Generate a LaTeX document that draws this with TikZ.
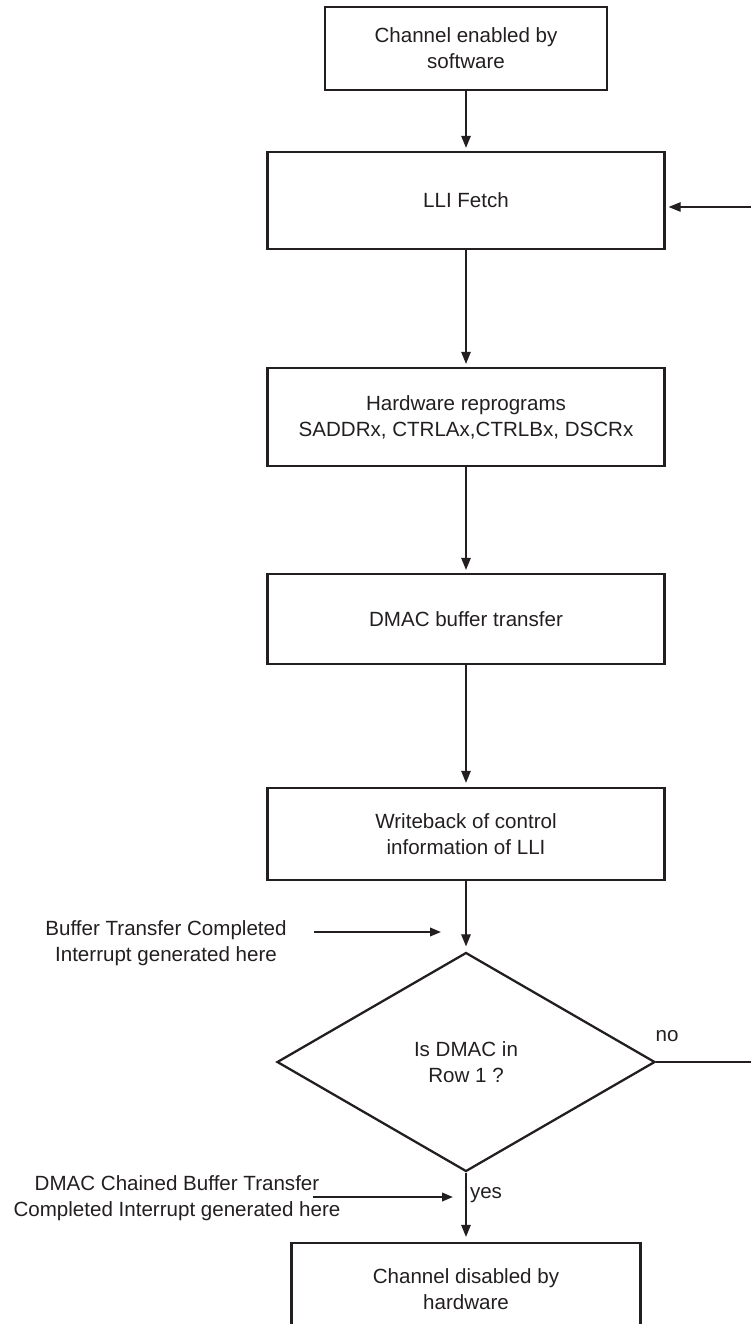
\documentclass[tikz,border=0pt]{standalone}
\usepackage{fontspec}
\setmainfont{Liberation Sans}
\usepackage{tikz}
\usetikzlibrary{shapes.geometric,arrows.meta,positioning}
\definecolor{flowink}{RGB}{35,31,32}
\newcommand{\flowfont}{\fontsize{11.7}{14.8}\selectfont}
\tikzset{
  flowbox/.style={rectangle, draw=flowink, line width=1.3pt, minimum width=7.94cm,
                  inner sep=0pt, align=center, font=\flowfont, text=flowink},
  flowdec/.style={diamond, draw=flowink, line width=1.3pt, minimum width=7.56cm,
                  minimum height=4.38cm, inner sep=0pt, align=center, font=\flowfont, text=flowink},
  flowarrow/.style={-{Triangle[length=0.24cm,width=0.19cm]}, line width=0.7pt, flowink},
  notearrow/.style={-{Triangle[length=0.22cm,width=0.17cm]}, line width=1.2pt, flowink},
  notetext/.style={align=center, font=\flowfont, text=flowink, inner sep=0pt},
}
\begin{document}
\begin{tikzpicture}
  \useasboundingbox (0,0) rectangle (15.02,-26.48);
  \clip (0,0) rectangle (15.02,-26.48);
  % Flow boxes
  \node[flowbox, minimum width=5.64cm, minimum height=1.66cm] (swen) at (9.32,-0.97) {Channel enabled by\\software};
  \node[flowbox, minimum height=1.94cm] (fetch) at (9.32,-4.01) {LLI Fetch};
  \node[flowbox, minimum height=1.96cm] (reprog) at (9.32,-8.34) {Hardware reprograms\\SADDRx, CTRLAx,CTRLBx, DSCRx};
  \node[flowbox, minimum height=1.80cm] (xfer) at (9.32,-12.38) {DMAC buffer transfer};
  \node[flowbox, minimum height=1.84cm] (wback) at (9.32,-16.68) {Writeback of control\\information of LLI};
  \node[flowdec] (rowchk) at (9.32,-21.24) {Is DMAC in\\Row 1 ?};
  \node[flowbox, minimum width=6.98cm, minimum height=1.84cm] (hwdis) at (9.32,-25.78) {Channel disabled by\\hardware};
  % Connectors
  \draw[flowarrow, shorten >=0.06cm] (swen) -- (fetch);
  \draw[flowarrow, shorten >=0.06cm] (fetch) -- (reprog);
  \draw[flowarrow, shorten >=0.06cm] (reprog) -- (xfer);
  \draw[flowarrow, shorten >=0.08cm] (xfer) -- (wback);
  \draw[flowarrow, shorten >=0.1cm] (wback) -- (rowchk);
  \draw[flowarrow, shorten >=0.1cm] (rowchk) -- (hwdis);
  % Loop back along the right edge
  \coordinate (loopin) at (15.02,-4.14);
  \coordinate (loopout) at (15.02,-21.24);
  \draw[flowarrow, shorten >=0.06cm] (loopin) -- (loopin -| fetch.east);
  \draw[flowink, line width=0.7pt] (rowchk.east) -- (loopout);
  \node[notetext] (nolbl) at (13.34,-20.73) {no};
  \node[notetext] (yeslbl) at (9.72,-23.90) {yes};
  % Interrupt notes
  \node[notetext] (bufnote) at (3.32,-18.87) {Buffer Transfer Completed\\Interrupt generated here};
  \node[notetext] (chainnote) at (3.54,-23.96) {DMAC Chained Buffer Transfer\\Completed Interrupt generated here};
  \coordinate (bufS) at (6.28,-18.64);
  \coordinate (bufE) at (8.82,-18.64);
  \coordinate (chainS) at (6.26,-23.94);
  \coordinate (chainE) at (9.06,-23.94);
  \draw[notearrow] (bufS) -- (bufE);
  \draw[notearrow] (chainS) -- (chainE);
\end{tikzpicture}
\end{document}
